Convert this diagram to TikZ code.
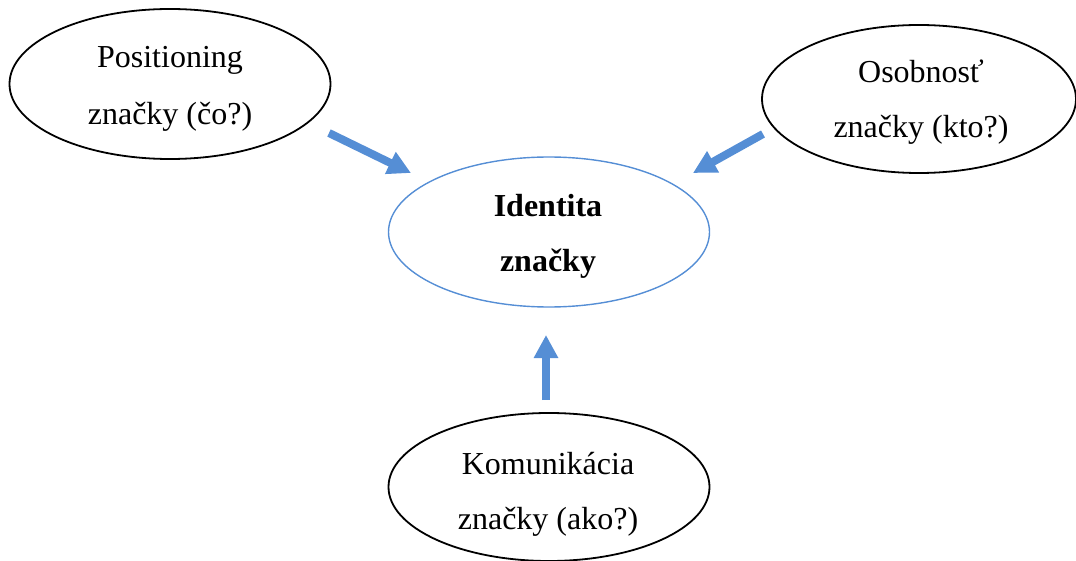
\documentclass[tikz,border=0pt]{standalone}
\usepackage{fontspec}
\setmainfont{Liberation Serif}
\usetikzlibrary{shapes.geometric,arrows.meta}
\definecolor{accentblue}{HTML}{558ED5}
\begin{document}
\begin{tikzpicture}[x=1pt,y=-1pt,
  bubble/.style={ellipse,draw=black,line width=1.8pt,minimum width=321pt,minimum height=150pt,inner sep=0pt},
  core/.style={ellipse,draw=accentblue,line width=1.4pt,minimum width=321pt,minimum height=150pt,inner sep=0pt},
  word/.style={anchor=base,inner sep=0pt,font=\fontsize{32}{38}\selectfont},
  bigarrow/.style={draw=accentblue,line width=8pt,-{Triangle[width=23pt,length=23pt,fill=accentblue]}}]
\useasboundingbox (0,0) rectangle (1076,561);

% the four ellipses
\node[bubble] (pos) at (170,84) {};
\node[bubble,minimum width=314pt,minimum height=148pt] (pers) at (919,99) {};
\node[core] (ident) at (549,232) {};
\node[bubble,minimum height=148pt] (komm) at (549,487) {};

% their texts, one node per line
\node[word] (posA) at (170,68) {Positioning};
\node[word] (posB) at (170,125) {značky (čo?)};
\node[word] (persA) at (921,83) {Osobnosť};
\node[word] (persB) at (921,138) {značky (kto?)};
\node[word,font=\fontsize{32}{38}\selectfont\bfseries] (identA) at (548,217) {Identita};
\node[word,font=\fontsize{32}{38}\selectfont\bfseries] (identB) at (548,272) {značky};
\node[word] (kommA) at (548,474) {Komunikácia};
\node[word] (kommB) at (548,529) {značky (ako?)};

% block arrows pointing to the centre
\coordinate (posOut) at (329,133);
\coordinate (identNW) at (411,173);
\coordinate (persOut) at (763,134);
\coordinate (identNE) at (693,173);
\coordinate (kommOut) at (546,400);
\coordinate (identS) at (546,335);
\draw[bigarrow] (posOut) -- (identNW);
\draw[bigarrow] (persOut) -- (identNE);
\draw[bigarrow] (kommOut) -- (identS);
\end{tikzpicture}
\end{document}
